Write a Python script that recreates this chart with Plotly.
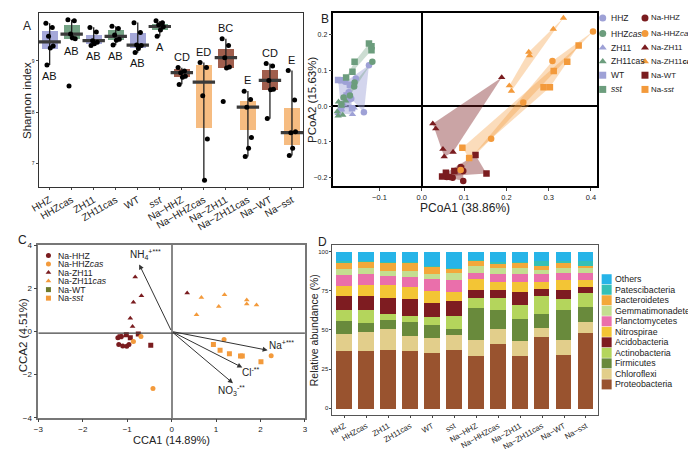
import plotly.graph_objects as go

W, H = 696, 449
FONT = "Liberation Sans, Arial, sans-serif"

# ---------------- Panel A data (Shannon index) ----------------
groups = ["HHZ", "HHZcas", "ZH11", "ZH11cas", "WT", "sst",
          "Na-HHZ", "Na-HHZcas", "Na-ZH11", "Na-ZH11cas", "Na-WT", "Na-sst"]
tick_A = ["HHZ", "HHZcas", "ZH11", "ZH11cas", "WT", "<i>sst</i>",
          "Na\u2212HHZ", "Na\u2212HHZcas", "Na\u2212ZH11", "Na\u2212ZH11cas", "Na\u2212WT", "Na\u2212sst"]
shannon_lf = [8.92, 9.40, 9.30, 9.305, 9.158, 9.476, 8.543, 6.682, 8.861, 7.139, 7.876, 7.158]
shannon_q1 = [9.24, 9.43, 9.33, 9.413, 9.242, 9.590, 8.682, 7.686, 8.861, 7.653, 8.442, 7.362]
shannon_med = [9.37, 9.52, 9.394, 9.476, 9.305, 9.667, 8.771, 8.587, 9.063, 8.099, 8.619, 7.604]
shannon_q3 = [9.585, 9.705, 9.509, 9.590, 9.539, 9.718, 8.842, 8.924, 9.223, 8.225, 8.823, 8.080]
shannon_uf = [9.73, 9.80, 9.653, 9.672, 9.743, 9.775, 8.867, 8.968, 9.43, 8.415, 8.949, 8.810]
shannon_points = [
    [9.73, 9.65, 9.48, 9.29, 9.25, 8.92],
    [9.80, 9.78, 9.52, 9.43, 9.45, 8.51],
    [9.65, 9.56, 9.39, 9.36, 9.33, 9.30],
    [9.67, 9.63, 9.50, 9.42, 9.40, 9.31],
    [9.74, 9.55, 9.31, 9.30, 9.24, 9.16],
    [9.78, 9.74, 9.70, 9.66, 9.60, 9.48],
    [8.87, 8.80, 8.77, 8.70, 8.68, 8.54],
    [8.97, 8.87, 8.32, 7.48, 6.68],
    [9.43, 9.30, 9.06, 8.88, 8.86, 8.21],
    [8.41, 8.25, 8.10, 7.51, 7.30, 7.14],
    [8.95, 8.90, 8.62, 8.45, 8.44, 7.88],
    [8.81, 8.24, 7.60, 7.62, 7.30, 7.16],
]
sig_letters = ["AB", "AB", "AB", "AB", "AB", "A", "CD", "ED", "BC", "E", "CD", "E"]

# ---------------- Panel B data (PCoA) ----------------
pcoa = {
    "HHZ":        ([-0.125, -0.156, -0.181, -0.173, -0.167, -0.137], [0.114, 0.077, 0.068, 0.039, 0.021, -0.017]),
    "ZH11":       ([-0.164, -0.198, -0.185, -0.175, -0.160, -0.190], [-0.023, -0.020, 0.005, 0.015, -0.005, -0.010]),
    "WT":         ([-0.198, -0.190, -0.165, -0.191, -0.178, -0.170], [0.073, 0.072, -0.006, -0.006, 0.030, 0.060]),
    "HHZcas":     ([-0.117, -0.159, -0.160, -0.185, -0.170, -0.190], [0.124, 0.066, 0.055, 0.024, 0.030, 0.005]),
    "ZH11cas":    ([-0.197, -0.198, -0.187, -0.180, -0.190, -0.200], [0.012, -0.027, -0.025, 0.015, 0.000, -0.015]),
    "sst":        ([-0.125, -0.119, -0.119, -0.159, -0.164, -0.179], [0.175, 0.167, 0.156, 0.124, 0.096, 0.080]),
    "Na-HHZ":     ([0.092, 0.098, 0.073, 0.059, 0.098, 0.066], [-0.170, -0.209, -0.200, -0.198, -0.181, -0.198]),
    "Na-ZH11":    ([0.026, 0.033, 0.050, 0.053, 0.074, 0.189], [-0.049, -0.063, -0.120, -0.141, -0.128, 0.080]),
    "Na-WT":      ([0.048, 0.057, 0.077, 0.127, 0.153, 0.093], [-0.196, -0.186, -0.181, -0.136, -0.188, -0.175]),
    "Na-HHZcas":  ([0.092, 0.164, 0.309, 0.405, 0.240], [-0.178, -0.091, 0.126, 0.208, 0.010]),
    "Na-sst":     ([0.096, 0.112, 0.371, 0.344, 0.312, 0.288, 0.303], [-0.116, -0.145, 0.169, 0.124, 0.098, 0.053, 0.053]),
    "Na-ZH11cas": ([0.335, 0.311, 0.253, 0.255, 0.207, 0.212], [0.246, 0.215, 0.151, 0.141, 0.057, 0.042]),
}

# ---------------- Panel C data (CCA) ----------------
cca = {
    "Na-HHZ":     ([-1.21, -1.13, -1.19, -1.10, -1.01, -0.96], [-0.29, -0.23, -0.60, -0.67, -0.69, -0.60]),
    "Na-WT":      ([-0.93, -1.02, -0.75, -0.47, -1.16], [-0.29, -0.15, -0.12, -0.64, -0.25]),
    "Na-ZH11":    ([-0.82, -0.68, -0.86, -0.93, -0.88, 0.35], [2.53, 1.66, 1.35, 0.61, 0.23, 1.78]),
    "Na-HHZcas":  ([-0.86, -0.69, -0.42, 1.18, 2.24], [-0.46, -0.23, -2.64, -0.37, -1.13]),
    "Na-sst":     ([0.94, 1.09, 1.30, 1.55, 1.59, 2.01], [-0.60, -0.87, -1.03, -1.14, -1.14, -1.41]),
    "Na-ZH11cas": ([0.67, 1.19, 1.06, 0.56, 1.69, 1.69, 1.91], [1.58, 1.70, 1.16, 0.78, 1.46, 1.27, 1.23]),
}
env_names = ["NH<sub>4</sub><sup>+***</sup>", "Na<sup>+***</sup>", "Cl<sup>-**</sup>", "NO<sub>3</sub><sup>-**</sup>"]
env_x = [-0.73, 2.16, 1.59, 1.38]
env_y = [3.11, -0.87, -1.67, -2.40]
env_label_x = [-0.98, 2.14, 1.54, 1.00]
env_label_y = [3.57, -0.62, -1.90, -2.76]

# ---------------- Panel D data (relative abundance, %) ----------------
phyla = ["Proteobacteria", "Chloroflexi", "Firmicutes", "Actinobacteria", "Acidobacteria",
         "Nitrospirae", "Planctomycetes", "Gemmatimonadetes", "Bacteroidetes", "Patescibacteria", "Others"]
abund = {
    "Proteobacteria":   [37.1, 36.6, 37.5, 36.6, 35.6, 37.5, 33.5, 41.3, 33.5, 45.8, 34.4, 48.5],
    "Chloroflexi":      [10.4, 12.5, 13.1, 9.8, 9.8, 9.4, 10.4, 9.3, 9.4, 5.8, 9.5, 6.9],
    "Firmicutes":       [8.3, 5.7, 5.7, 8.8, 7.7, 3.7, 20.2, 12.1, 14.6, 8.8, 18.8, 9.4],
    "Actinobacteria":   [6.9, 7.9, 4.3, 4.2, 5.2, 8.8, 6.3, 7.7, 8.7, 11.7, 7.3, 8.7],
    "Acidobacteria":    [9.2, 9.4, 10.2, 10.6, 9.0, 9.5, 5.6, 5.2, 8.4, 4.5, 5.6, 4.2],
    "Nitrospirae":      [6.3, 7.0, 8.0, 7.7, 7.7, 5.7, 6.9, 5.2, 6.2, 4.2, 6.3, 4.2],
    "Planctomycetes":   [6.8, 6.9, 5.6, 6.2, 7.5, 7.6, 3.5, 5.2, 5.2, 4.8, 4.5, 4.7],
    "Gemmatimonadetes": [3.8, 3.8, 3.7, 4.2, 3.3, 4.2, 4.4, 3.8, 4.0, 2.9, 3.2, 2.9],
    "Bacteroidetes":    [4.7, 4.0, 5.4, 5.4, 4.6, 3.3, 3.6, 2.7, 3.0, 2.3, 3.9, 1.5],
    "Patescibacteria":  [0.5, 0.2, 0.2, 0.2, 0.3, 0.3, 0.5, 0.8, 0.5, 3.2, 0.5, 3.0],
    "Others":           [6.0, 6.0, 6.3, 6.3, 9.3, 10.0, 5.1, 6.7, 6.5, 6.0, 6.0, 6.0],
}
tick_D = ["HHZ", "HHZcas", "ZH11", "ZH11cas", "WT", "sst",
          "Na\u2212HHZ", "Na\u2212HHZcas", "Na\u2212ZH11", "Na\u2212ZH11cas", "Na\u2212WT", "Na\u2212sst"]

# ---------------- styles ----------------
PURPLE, GREEN, DRED, ORANGE = "#9ea1d6", "#6c9d7d", "#7a1c1f", "#f39a3b"
box_fill = {"p": "#a5a8d9", "g": "#74a385", "b": "#a05e4d", "o": "#f6bc81"}
box_col_key = ["p", "g", "p", "g", "p", "g", "b", "o", "b", "o", "b", "o"]
hull_fill = {PURPLE: "rgba(158,161,214,0.45)", GREEN: "rgba(108,157,125,0.35)",
             DRED: "rgba(122,28,31,0.40)", ORANGE: "rgba(243,154,59,0.35)"}
grp_style = {
    "HHZ": (PURPLE, "circle"), "HHZcas": (GREEN, "circle"),
    "ZH11": (PURPLE, "triangle-up"), "ZH11cas": (GREEN, "triangle-up"),
    "WT": (PURPLE, "square"), "sst": (GREEN, "square"),
    "Na-HHZ": (DRED, "circle"), "Na-HHZcas": (ORANGE, "circle"),
    "Na-ZH11": (DRED, "triangle-up"), "Na-ZH11cas": (ORANGE, "triangle-up"),
    "Na-WT": (DRED, "square"), "Na-sst": (ORANGE, "square"),
}
phy_col = {
    "Proteobacteria": "#99532f", "Chloroflexi": "#e2ce8b", "Firmicutes": "#698a3c",
    "Actinobacteria": "#b4d55c", "Acidobacteria": "#7e1c21", "Nitrospirae": "#f3c535",
    "Planctomycetes": "#ea6fab", "Gemmatimonadetes": "#c4de90", "Bacteroidetes": "#f3a83a",
    "Patescibacteria": "#35c0b6", "Others": "#26b4e8",
}
jitter = [-0.17, 0.12, -0.05, 0.16, 0.03, -0.12]


def dom_x(a, b):
    return [a / W, b / W]


def dom_y(top, bottom):
    return [1 - bottom / H, 1 - top / H]


def hull(pts):
    pts = sorted(set(pts))
    if len(pts) <= 2:
        return pts

    def cross(o, a, b):
        return (a[0] - o[0]) * (b[1] - o[1]) - (a[1] - o[1]) * (b[0] - o[0])
    lower, upper = [], []
    for p in pts:
        while len(lower) >= 2 and cross(lower[-2], lower[-1], p) <= 0:
            lower.pop()
        lower.append(p)
    for p in reversed(pts):
        while len(upper) >= 2 and cross(upper[-2], upper[-1], p) <= 0:
            upper.pop()
        upper.append(p)
    return lower[:-1] + upper[:-1]


fig = go.Figure()
idx = list(range(len(groups)))

# ---------- A ----------
wx, wy = [], []
for i in idx:
    wx += [i, i, None]
    wy += [shannon_lf[i], shannon_uf[i], None]
fig.add_trace(go.Scatter(x=wx, y=wy, mode="lines", line=dict(color="#222", width=1.3),
                         xaxis="x", yaxis="y", hoverinfo="skip"))
fig.add_trace(go.Bar(x=idx, y=[shannon_q3[i] - shannon_q1[i] for i in idx], base=shannon_q1,
                     width=0.72, marker=dict(color=[box_fill[k] for k in box_col_key], line=dict(width=0)),
                     xaxis="x", yaxis="y"))
fig.add_trace(go.Scatter(x=idx, y=shannon_med, mode="markers",
                         marker=dict(symbol="line-ew", size=16, line=dict(width=3.2, color="#3a3a3a")),
                         xaxis="x", yaxis="y"))
px, py = [], []
for i in idx:
    for j, v in enumerate(shannon_points[i]):
        px.append(i + jitter[j % len(jitter)])
        py.append(v)
fig.add_trace(go.Scatter(x=px, y=py, mode="markers", marker=dict(color="black", size=5),
                         xaxis="x", yaxis="y"))
annotations = []
for i in idx:
    if i < 6:
        yy, ya = min(shannon_lf[i], shannon_q1[i]) - 0.05, "top"
    else:
        yy, ya = shannon_uf[i] + 0.05, "bottom"
    annotations.append(dict(x=i, y=yy, xref="x", yref="y", text=sig_letters[i], showarrow=False,
                            yanchor=ya, font=dict(size=11, color="#111", family=FONT)))

# ---------- B ----------
for g, (xs, ys) in pcoa.items():
    col, sym = grp_style[g]
    hp = hull(list(zip(xs, ys)))
    fig.add_trace(go.Scatter(x=[p[0] for p in hp] + [hp[0][0]], y=[p[1] for p in hp] + [hp[0][1]],
                             mode="lines", fill="toself", fillcolor=hull_fill[col],
                             line=dict(width=0), xaxis="x2", yaxis="y2", hoverinfo="skip"))
for g, (xs, ys) in pcoa.items():
    col, sym = grp_style[g]
    fig.add_trace(go.Scatter(x=xs, y=ys, mode="markers", marker=dict(color=col, symbol=sym, size=6.5),
                             xaxis="x2", yaxis="y2", name=g))

# ---------- C ----------
for g, (xs, ys) in cca.items():
    col, sym = grp_style[g]
    fig.add_trace(go.Scatter(x=xs, y=ys, mode="markers", marker=dict(color=col, symbol=sym, size=5),
                             xaxis="x3", yaxis="y3", name=g))
for k in range(len(env_names)):
    annotations.append(dict(x=env_x[k], y=env_y[k], ax=0, ay=0, xref="x3", yref="y3",
                            axref="x3", ayref="y3", text="", showarrow=True, arrowhead=2,
                            arrowsize=1, arrowwidth=1, arrowcolor="#333", standoff=0))
    annotations.append(dict(x=env_label_x[k], y=env_label_y[k], xref="x3", yref="y3",
                            text=env_names[k], showarrow=False, xanchor="left",
                            font=dict(size=10, color="#222", family=FONT)))

# ---------- D ----------
for ph in phyla:
    fig.add_trace(go.Bar(x=idx, y=abund[ph], width=0.72, marker=dict(color=phy_col[ph], line=dict(width=0)),
                         xaxis="x4", yaxis="y4", name=ph))

# ---------- Legends (drawn manually on a pixel overlay axis) ----------
legB_rows = [6, 22, 36.5, 50.5, 64.5, 79]
legB_col1 = ["HHZ", "HHZcas", "ZH11", "ZH11cas", "WT", "sst"]
legB_col1_txt = ["HHZ", "HHZ<i>cas</i>", "ZH11", "ZH11cas", "WT", "<i>sst</i>"]
legB_col2 = ["Na-HHZ", "Na-HHZcas", "Na-ZH11", "Na-ZH11cas", "Na-WT", "Na-sst"]
legB_col2_txt = ["Na-HHZ", "Na-HHZ<i>cas</i>", "Na-ZH11", "Na-ZH11<b>cas</b>", "Na-WT", "Na-<i>sst</i>"]
for col_groups, col_txt, mx, tx, fs in [(legB_col1, legB_col1_txt, 596, 602, 8.5),
                                        (legB_col2, legB_col2_txt, 639, 643, 7.9)]:
    for r, g in enumerate(col_groups):
        c, s = grp_style[g]
        fig.add_trace(go.Scatter(x=[mx], y=[legB_rows[r]], mode="markers",
                                 marker=dict(color=c, symbol=s, size=7), xaxis="x5", yaxis="y5",
                                 cliponaxis=False, hoverinfo="skip"))
        annotations.append(dict(x=tx, y=legB_rows[r], xref="x5", yref="y5", text=col_txt[r],
                                showarrow=False, xanchor="left", yanchor="middle",
                                font=dict(size=fs, color="#222", family=FONT)))

legC_groups = ["Na-HHZ", "Na-HHZcas", "Na-ZH11", "Na-ZH11cas", "Na-WT", "Na-sst"]
legC_txt = ["Na-HHZ", "Na-HHZ<i>cas</i>", "Na-ZH11", "Na-ZH11<i>cas</i>", "Na-WT", "Na-<i>sst</i>"]
legC_colors = [DRED, ORANGE, DRED, ORANGE, "#6e7a2c", ORANGE]
for r, g in enumerate(legC_groups):
    yy = 248.5 + 8.7 * r
    fig.add_trace(go.Scatter(x=[32], y=[yy], mode="markers",
                             marker=dict(color=legC_colors[r], symbol=grp_style[g][1], size=5),
                             xaxis="x5", yaxis="y5", cliponaxis=False, hoverinfo="skip"))
    annotations.append(dict(x=40, y=yy, xref="x5", yref="y5", text=legC_txt[r], showarrow=False,
                            xanchor="left", yanchor="middle", font=dict(size=8.7, color="#222", family=FONT)))

for r, ph in enumerate(reversed(phyla)):
    yy = 272.7 + 10.73 * r
    fig.add_trace(go.Scatter(x=[600], y=[yy], mode="markers",
                             marker=dict(color=phy_col[ph], symbol="square", size=10),
                             xaxis="x5", yaxis="y5", cliponaxis=False, hoverinfo="skip"))
    annotations.append(dict(x=606, y=yy, xref="x5", yref="y5", text=ph, showarrow=False,
                            xanchor="left", yanchor="middle", font=dict(size=8.8, color="#222", family=FONT)))

# Panel letters & axis titles
def txt(x, y, t, size=11, angle=0):
    return dict(x=x, y=y, xref="x5", yref="y5", text=t, showarrow=False, textangle=angle,
                xanchor="center", yanchor="middle", font=dict(size=size, color="#222", family=FONT))

annotations += [
    txt(10, 14, "A", 12), txt(313, 7, "B", 12), txt(6, 233, "C", 12), txt(311, 235, "D", 12),
    txt(10, 90, "Shannon index", 11.5, -90),
    txt(300, 90, "PCoA2 (15.63%)", 11.5, -90),
    txt(456, 200, "PCoA1 (38.86%)", 12),
    txt(6, 330, "CCA2 (4.51%)", 11.5, -90),
    txt(157, 437, "CCA1 (14.89%)", 11),
    txt(303, 325, "Relative abundance (%)", 10.5, -90),
]

shapes = [dict(type="line", xref="x3", yref="y3", x0=-3, x1=3, y0=-0.08, y1=-0.08,
               line=dict(color="#444", width=1.2))]

common = dict(showgrid=False, showline=True, mirror=True, ticks="outside", zeroline=False)
fig.update_layout(
    width=W, height=H, margin=dict(l=0, r=0, t=0, b=0),
    paper_bgcolor="white", plot_bgcolor="rgba(0,0,0,0)",
    showlegend=False, barmode="stack", bargap=0,
    font=dict(family=FONT, color="#222"),
    annotations=annotations, shapes=shapes,
    xaxis=dict(domain=dom_x(22, 291), range=[-0.5, 11.5], tickvals=idx, ticktext=tick_A, tickangle=-30,
               tickfont=dict(size=10), linecolor="#333", linewidth=1, ticklen=2, anchor="y", **common),
    yaxis=dict(domain=dom_y(1, 179), range=[6.54, 9.93], tickvals=[7, 8, 9], tickfont=dict(size=5),
               linecolor="#333", linewidth=1, ticklen=2, anchor="x", **common),
    xaxis2=dict(domain=dom_x(322, 590), range=[-0.209, 0.414], tickvals=[-0.1, 0, 0.1, 0.2, 0.3, 0.4],
                tickformat=".1f", tickfont=dict(size=7.5), linecolor="black", linewidth=1.5, ticklen=3,
                anchor="y2", showgrid=False, showline=True, mirror=True, ticks="outside",
                zeroline=True, zerolinecolor="black", zerolinewidth=1.5),
    yaxis2=dict(domain=dom_y(1, 178), range=[-0.224, 0.26], tickvals=[-0.2, -0.1, 0, 0.1, 0.2],
                tickformat=".1f", tickfont=dict(size=7), linecolor="black", linewidth=1.5, ticklen=3,
                anchor="x2", showgrid=False, showline=True, mirror=True, ticks="outside",
                zeroline=True, zerolinecolor="black", zerolinewidth=1.5),
    xaxis3=dict(domain=dom_x(21.7, 293), range=[-3, 3], dtick=1, tickfont=dict(size=8),
                linecolor="#777", linewidth=1.5, ticklen=3, anchor="y3", showgrid=False, showline=True,
                mirror=True, ticks="outside", zeroline=True, zerolinecolor="#888", zerolinewidth=1.5),
    yaxis3=dict(domain=dom_y(238, 414), range=[-4, 4], dtick=2, tickfont=dict(size=8),
                linecolor="#777", linewidth=1.5, ticklen=3, anchor="x3", **common),
    xaxis4=dict(domain=dom_x(321, 591.7), range=[-0.54, 11.57], tickvals=idx, ticktext=tick_D, tickangle=-30,
                tickfont=dict(size=7.8), linecolor="#555", linewidth=1, ticklen=2, anchor="y4", **common),
    yaxis4=dict(domain=dom_y(237.3, 411.7), range=[-4.6, 104.4], tickvals=[0, 25, 50, 75, 100],
                tickfont=dict(size=6), linecolor="#555", linewidth=1, ticklen=2, anchor="x4", **common),
    xaxis5=dict(domain=[0, 1], range=[0, W], visible=False, anchor="y5", fixedrange=True),
    yaxis5=dict(domain=[0, 1], range=[H, 0], visible=False, anchor="x5", fixedrange=True),
)

fig.write_html("out.html")
